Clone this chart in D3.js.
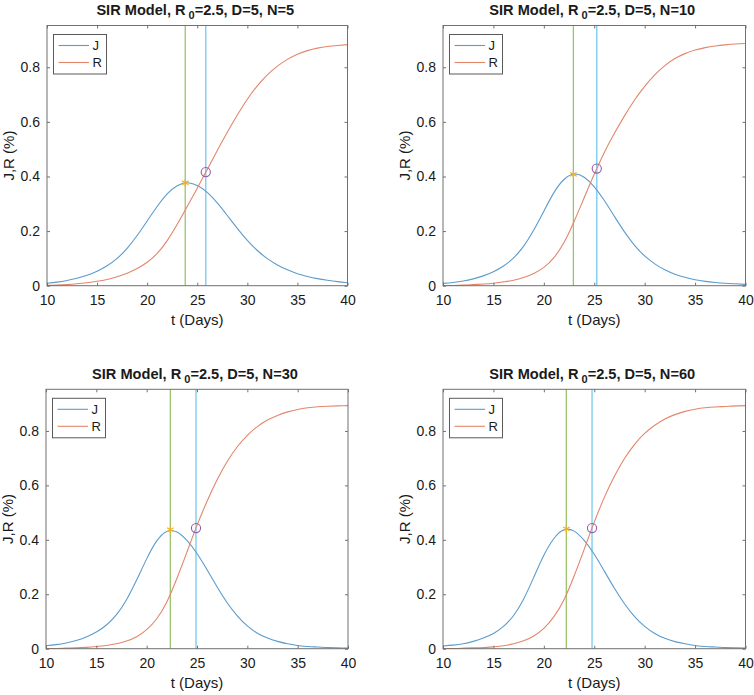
<!DOCTYPE html>
<html><head><meta charset="utf-8">
<script src="https://cdn.jsdelivr.net/npm/d3@7"></script>
<style>
html,body{margin:0;padding:0;background:#fff;}
svg{display:block;font-family:"Liberation Sans",Arial,Helvetica,sans-serif;}
</style></head>
<body><svg id="chart" width="754" height="695"></svg>
<script>
// ---- data ----
const days = [10,11,12,13,14,15,16,17,18,19,20,21,22,23,24,25,26,27,28,29,30,31,32,33,34,35,36,37,38,39,40];
const nValues = [5, 10, 30, 60];
const xTicks = [10,15,20,25,30,35,40];
const yTicks = [0,0.2,0.4,0.6,0.8];
const yTickLabels = ["0","0.2","0.4","0.6","0.8"];

const J_N5  = [0.009,0.013,0.019,0.027,0.038,0.053,0.073,0.100,0.137,0.184,0.237,0.290,0.336,0.366,0.377,0.367,0.342,0.303,0.257,0.210,0.166,0.129,0.099,0.076,0.058,0.044,0.034,0.026,0.020,0.015,0.011];
const R_N5  = [0.001,0.002,0.004,0.007,0.011,0.016,0.023,0.033,0.046,0.063,0.086,0.118,0.165,0.225,0.290,0.357,0.426,0.495,0.562,0.625,0.683,0.732,0.772,0.804,0.829,0.848,0.861,0.870,0.876,0.880,0.883];
const J_N10 = [0.0085,0.012,0.017,0.025,0.036,0.051,0.072,0.102,0.145,0.204,0.273,0.341,0.389,0.409,0.397,0.362,0.312,0.254,0.197,0.148,0.109,0.080,0.058,0.042,0.031,0.022,0.016,0.012,0.009,0.007,0.005];
const R_N10 = [0.001,0.001,0.002,0.004,0.006,0.009,0.014,0.020,0.030,0.045,0.067,0.103,0.158,0.235,0.322,0.408,0.488,0.558,0.622,0.680,0.730,0.772,0.806,0.832,0.850,0.863,0.872,0.878,0.882,0.885,0.887];
const J_N30 = [0.011,0.015,0.021,0.030,0.043,0.061,0.087,0.125,0.180,0.252,0.330,0.396,0.431,0.429,0.398,0.350,0.290,0.227,0.169,0.121,0.084,0.057,0.039,0.027,0.018,0.012,0.008,0.006,0.004,0.003,0.002];
const R_N30 = [0.001,0.001,0.002,0.003,0.005,0.008,0.012,0.018,0.028,0.044,0.070,0.110,0.172,0.258,0.355,0.453,0.542,0.621,0.688,0.742,0.784,0.816,0.840,0.857,0.870,0.879,0.885,0.889,0.891,0.892,0.893];
const J_N60 = [0.010,0.013,0.018,0.027,0.039,0.056,0.082,0.122,0.183,0.262,0.343,0.405,0.437,0.432,0.398,0.347,0.285,0.222,0.165,0.118,0.082,0.056,0.038,0.026,0.018,0.012,0.008,0.006,0.004,0.003,0.002];
const R_N60 = [0.001,0.001,0.002,0.003,0.004,0.007,0.011,0.018,0.029,0.047,0.075,0.118,0.180,0.267,0.365,0.465,0.556,0.634,0.699,0.751,0.791,0.821,0.844,0.860,0.872,0.880,0.885,0.888,0.890,0.892,0.893];

const peakDay = [23.8, 22.93, 22.35, 22.23];
const peakJ   = [0.377, 0.408, 0.437, 0.440];
const markDay = [25.85, 25.25, 24.9, 24.78];
const markR   = [0.416, 0.429, 0.443, 0.443];

const seriesJ = [J_N5, J_N10, J_N30, J_N60];
const seriesR = [R_N5, R_N10, R_N30, R_N60];

// ---- layout ----
const panels = [
  {x0:47,  x1:347.5, y0:25.5,  y1:285.7},
  {x0:443, x1:745.5, y0:25.5,  y1:285.7},
  {x0:46,  x1:348,   y0:389.3, y1:648.7},
  {x0:443, x1:745.5, y0:389.3, y1:648.7}
];
const colJ = "#5b9ccd", colR = "#e3866a", colGreen = "#9cc46b", colCyan = "#86d0f0",
      colStar = "#edb120", colCirc = "#9a5aa8", axisCol = "#707070", textCol = "#1a1a1a";

const svg = d3.select("#chart");

panels.forEach((p, i) => {
  const x = d3.scaleLinear().domain([10, 40]).range([p.x0, p.x1]);
  const y = d3.scaleLinear().domain([0, 0.953]).range([p.y1, p.y0]);
  const g = svg.append("g");

  // vertical lines
  g.append("line").attr("x1", x(peakDay[i])).attr("x2", x(peakDay[i]))
    .attr("y1", p.y0).attr("y2", p.y1).attr("stroke", colGreen).attr("stroke-width", 1.3);
  g.append("line").attr("x1", x(markDay[i])).attr("x2", x(markDay[i]))
    .attr("y1", p.y0).attr("y2", p.y1).attr("stroke", colCyan).attr("stroke-width", 1.5);

  // curves
  const line = d3.line().x(d => x(d[0])).y(d => y(d[1])).curve(d3.curveNatural);
  g.append("path").datum(days.map((d, k) => [d, seriesJ[i][k]]))
    .attr("d", line).attr("fill", "none").attr("stroke", colJ).attr("stroke-width", 1.1);
  g.append("path").datum(days.map((d, k) => [d, seriesR[i][k]]))
    .attr("d", line).attr("fill", "none").attr("stroke", colR).attr("stroke-width", 1.1);

  // markers
  g.append("path").attr("d", d3.symbol(d3.symbolAsterisk, 40)())
    .attr("transform", `translate(${x(peakDay[i])},${y(peakJ[i])})`)
    .attr("fill", "none").attr("stroke", colStar).attr("stroke-width", 1.2);
  g.append("circle").attr("cx", x(markDay[i])).attr("cy", y(markR[i])).attr("r", 4.6)
    .attr("fill", "none").attr("stroke", colCirc).attr("stroke-width", 1.1);

  // axes (ticks inward, mirrored)
  const styleAxis = sel => {
    sel.select(".domain").remove();
    sel.selectAll(".tick line").attr("stroke", axisCol).attr("stroke-width", 1);
    sel.selectAll(".tick text").attr("fill", textCol).style("font-size", "14px")
      .style("font-family", '"Liberation Sans",Arial,sans-serif');
  };
  const bottom = g.append("g").attr("transform", `translate(0,${p.y1})`)
    .call(d3.axisBottom(x).tickValues(xTicks).tickSizeInner(-3).tickSizeOuter(0).tickPadding(9).tickFormat(d3.format("d")));
  styleAxis(bottom);
  const top = g.append("g").attr("transform", `translate(0,${p.y0})`)
    .call(d3.axisTop(x).tickValues(xTicks).tickSizeInner(-3).tickSizeOuter(0).tickFormat(""));
  styleAxis(top);
  const left = g.append("g").attr("transform", `translate(${p.x0},0)`)
    .call(d3.axisLeft(y).tickValues(yTicks).tickSizeInner(-3).tickSizeOuter(0).tickPadding(7)
      .tickFormat((d, k) => yTickLabels[k]));
  styleAxis(left);
  const right = g.append("g").attr("transform", `translate(${p.x1},0)`)
    .call(d3.axisRight(y).tickValues(yTicks).tickSizeInner(-3).tickSizeOuter(0).tickFormat(""));
  styleAxis(right);

  // box
  g.append("rect").attr("x", p.x0).attr("y", p.y0).attr("width", p.x1 - p.x0).attr("height", p.y1 - p.y0)
    .attr("fill", "none").attr("stroke", axisCol).attr("stroke-width", 1);

  // axis labels
  g.append("text").attr("x", (p.x0 + p.x1) / 2).attr("y", p.y1 + 39.5).attr("text-anchor", "middle")
    .attr("fill", textCol).style("font-size", "15px").text("t (Days)");
  g.append("text").attr("transform", `translate(${p.x0 - 33.5},${(p.y0 + p.y1) / 2}) rotate(-90)`)
    .attr("text-anchor", "middle").attr("fill", textCol).style("font-size", "15px").text("J,R (%)");

  // title
  const t = g.append("text").attr("x", (p.x0 + p.x1) / 2 - 2).attr("y", p.y0 - 10.5).attr("text-anchor", "middle")
    .attr("fill", textCol).style("font-size", "14.6px").style("font-weight", "bold");
  t.append("tspan").text("SIR Model, R");
  t.append("tspan").attr("dx", 3).attr("dy", 4).style("font-size", "11px").text("0");
  t.append("tspan").attr("dy", -4).text(`=2.5, D=5, N=${nValues[i]}`);

  // legend
  const lx = p.x0 + 6.5, ly = p.y0 + 9;
  const lg = g.append("g");
  lg.append("rect").attr("x", lx).attr("y", ly).attr("width", 53).attr("height", 39.5)
    .attr("fill", "#fff").attr("stroke", "#5a5a5a").attr("stroke-width", 1);
  [["J", colJ, 11], ["R", colR, 28]].forEach(([lab, c, dy]) => {
    lg.append("line").attr("x1", lx + 5).attr("x2", lx + 35.5).attr("y1", ly + dy).attr("y2", ly + dy)
      .attr("stroke", c).attr("stroke-width", 1.1);
    lg.append("text").attr("x", lx + 39).attr("y", ly + dy + 4.6).attr("fill", textCol)
      .style("font-size", "13px").text(lab);
  });
});
</script></body></html>
